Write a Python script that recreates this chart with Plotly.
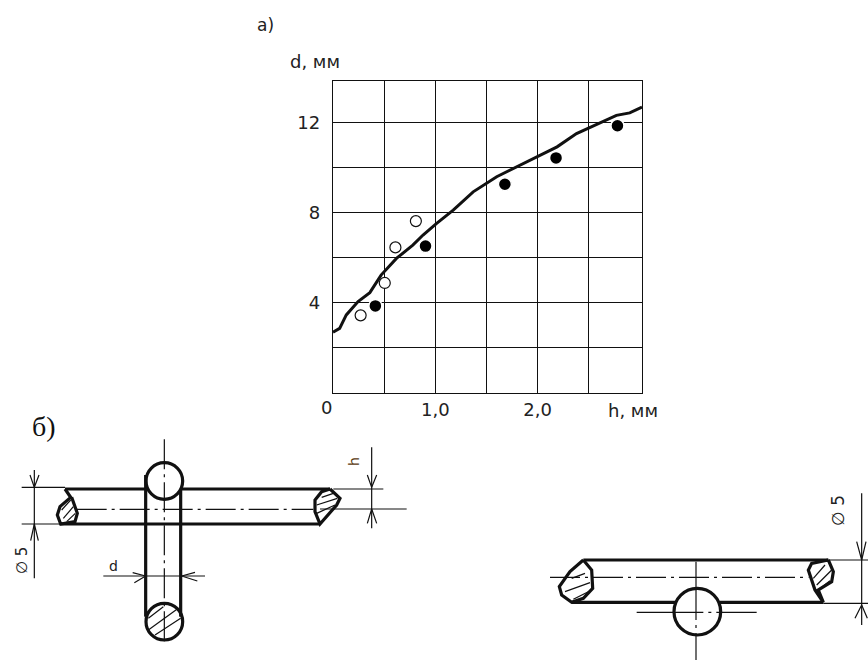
import plotly.graph_objects as go

# a) measured curve and points
curve_h = [0, 0.065, 0.13, 0.245, 0.36, 0.47, 0.62, 0.78, 0.88, 1.01, 1.175, 1.37, 1.6, 1.79, 1.99, 2.19, 2.38, 2.58, 2.77, 2.9, 3.02]
curve_d = [2.68, 2.85, 3.45, 4.04, 4.44, 5.22, 5.96, 6.55, 7.0, 7.51, 8.11, 8.92, 9.59, 10.03, 10.47, 10.92, 11.51, 11.92, 12.32, 12.43, 12.69]
filled_h = [0.414, 0.904, 1.68, 2.18, 2.78]
filled_d = [3.85, 6.51, 9.26, 10.43, 11.86]
open_h = [0.27, 0.506, 0.61, 0.81]
open_d = [3.43, 4.87, 6.45, 7.62]
x_ticks = [0, 0.5, 1, 1.5, 2, 2.5]
x_labels = ["", "", "1,0", "", "2,0", ""]
y_ticks = [0, 2, 4, 6, 8, 10, 12]
y_labels = ["", "", "4", "", "8", "", "12"]

# б) left sketch, read from the 3x crop at (0,410)
L_thick = [
    [(195, 237), (437, 237)], [(545, 237), (990, 237)], [(180, 342), (960, 342)],
    [(437, 195), (437, 620)], [(542, 240), (542, 620)],
    [(195, 237), (212, 262), (180, 290), (172, 315), (182, 342), (225, 335), (232, 310), (215, 262)],
    [(990, 237), (1020, 265), (1010, 285), (960, 342), (945, 305), (945, 270), (965, 245), (990, 237)],
]
L_thin = [
    [(65, 232), (195, 232)], [(65, 342), (180, 342)], [(1000, 237), (1150, 237)], [(960, 297), (1220, 297)],
    [(103, 180), (103, 505)], [(1115, 112), (1115, 355)], [(310, 498), (615, 498)],
    [(90, 195), (103, 232), (117, 195)], [(92, 392), (103, 342), (115, 392)],
    [(1102, 195), (1115, 232), (1130, 195)], [(1102, 340), (1115, 297), (1130, 340)],
    [(398, 488), (437, 498), (403, 518)], [(585, 487), (545, 498), (592, 513)],
    [(190, 325), (220, 290)], [(200, 335), (226, 310)], [(185, 300), (212, 270)],
    [(950, 285), (1012, 265)], [(950, 310), (1005, 285)], [(965, 262), (1000, 250)],
    [(445, 625), (490, 590)], [(445, 660), (535, 595)], [(465, 675), (542, 625)],
]
L_center = [[(230, 298), (940, 298)], [(493, 88), (493, 700)]]
L_circles = [(493, 213, 55), (493, 635, 55)]

# б) right sketch, read from the 3x crop at (530,490)
R_thick = [
    [(160, 210), (895, 210)], [(125, 337), (435, 337)], [(570, 337), (880, 337)],
    [(160, 210), (185, 240), (188, 295), (160, 325), (125, 337), (95, 315), (88, 290), (120, 245), (160, 210)],
    [(895, 210), (910, 245), (905, 275), (865, 300), (880, 337), (855, 300), (835, 240), (845, 220), (895, 210)],
]
R_thin = [
    [(895, 210), (1015, 210)], [(880, 340), (1015, 340)], [(995, 10), (995, 405)],
    [(980, 155), (995, 210), (1008, 155)], [(975, 385), (995, 345), (1012, 385)],
    [(498, 215), (498, 300)], [(498, 430), (498, 510)], [(320, 367), (430, 367)], [(575, 367), (680, 367)],
    [(105, 305), (180, 278)], [(125, 265), (165, 250)], [(130, 328), (175, 305)],
    [(850, 265), (885, 225)], [(860, 285), (905, 240)], [(865, 300), (900, 272)],
]
R_center = [[(60, 262), (835, 262)], [(498, 300), (498, 430)], [(430, 367), (575, 367)]]
R_circles = [(502, 365, 70)]


def left_px(pt):
    return pt[0] / 3, 410 + pt[1] / 3


def right_px(pt):
    return 530 + pt[0] / 3, 490 + pt[1] / 3


def flatten(paths, conv):
    xs, ys = [], []
    for path in paths:
        for pt in path:
            x, y = conv(pt)
            xs.append(x)
            ys.append(y)
        xs.append(None)
        ys.append(None)
    return xs, ys


def sketch_line(paths, conv, width, dash="solid"):
    xs, ys = flatten(paths, conv)
    return go.Scatter(x=xs, y=ys, xaxis="x2", yaxis="y2", mode="lines", hoverinfo="skip",
                      line=dict(color="#111111", width=width, dash=dash))


fig = go.Figure()

fig.add_trace(go.Scatter(x=curve_h, y=curve_d, mode="lines", cliponaxis=False,
                         line=dict(color="#111111", width=3)))
fig.add_trace(go.Scatter(x=filled_h, y=filled_d, mode="markers", cliponaxis=False,
                         marker=dict(symbol="circle", size=13, color="#000000", line=dict(color="white", width=1.5))))
fig.add_trace(go.Scatter(x=open_h, y=open_d, mode="markers", cliponaxis=False,
                         marker=dict(symbol="circle", size=11, color="white", line=dict(color="#111111", width=1.2))))

for paths, conv in [(L_center, left_px), (R_center, right_px)]:
    fig.add_trace(sketch_line(paths, conv, 1.2, "30px,5px,3px,5px"))
fig.add_trace(sketch_line(L_thin, left_px, 1.2))
fig.add_trace(sketch_line(R_thin, right_px, 1.2))
fig.add_trace(sketch_line(L_thick, left_px, 3.2))
fig.add_trace(sketch_line(R_thick, right_px, 3.2))

for circles, conv in [(L_circles, left_px), (R_circles, right_px)]:
    for cx, cy, r in circles:
        x0, y0 = conv((cx - r, cy - r))
        x1, y1 = conv((cx + r, cy + r))
        fig.add_shape(type="circle", xref="x2", yref="y2", x0=x0, y0=y0, x1=x1, y1=y1,
                      line=dict(color="#111111", width=3.2))

label_font = dict(family="DejaVu Sans", size=18, color="#222222")
unit_font = dict(family="DejaVu Sans", size=18, color="#222222")
small_font = dict(family="DejaVu Sans", size=14, color="#222222")
notes = [
    ("а)", 265, 25, dict(unit_font, size=17), 0),
    ("d, мм", 315, 61, unit_font, 0),
    ("0", 326, 407, label_font, 0),
    ("h, мм", 633, 410, unit_font, 0),
    ("d", 113, 566, small_font, 0),
    ("h", 354, 462, dict(small_font, color="#5a3a10"), -90),
    ("∅ 5", 22, 561, dict(small_font, size=15), -90),
    ("∅ 5", 838, 511, dict(small_font, size=17), -90),
    ("б)", 44, 426, dict(family="Liberation Serif", size=28, color="#111111"), 0),
]
for text, x, y, font, angle in notes:
    fig.add_annotation(text=text, x=x, y=y, xref="x2", yref="y2", showarrow=False, font=font, textangle=angle)

fig.update_layout(
    width=868,
    height=660,
    margin=dict(l=0, r=0, t=0, b=0),
    paper_bgcolor="white",
    plot_bgcolor="rgba(0,0,0,0)",
    showlegend=False,
    xaxis=dict(domain=[333 / 868, 642 / 868], range=[0, 3.02], tickvals=x_ticks, ticktext=x_labels,
               showgrid=True, gridcolor="#111111", gridwidth=1.4, zeroline=False, showline=True,
               linecolor="#111111", linewidth=1.4, mirror=True, ticks="outside", ticklen=1,
               tickcolor="rgba(0,0,0,0)", tickfont=label_font, anchor="y"),
    yaxis=dict(domain=[1 - 392.5 / 660, 1 - 80.5 / 660], range=[0, 13.87], tickvals=y_ticks, ticktext=y_labels,
               showgrid=True, gridcolor="#111111", gridwidth=1.4, zeroline=False, showline=True,
               linecolor="#111111", linewidth=1.4, mirror=True, ticks="outside", ticklen=8,
               tickcolor="rgba(0,0,0,0)", tickfont=label_font, anchor="x"),
    xaxis2=dict(domain=[0, 1], range=[0, 868], visible=False, anchor="y2"),
    yaxis2=dict(domain=[0, 1], range=[660, 0], visible=False, anchor="x2"),
)

fig.write_html("out.html", config=dict(displayModeBar=False), post_script="document.body.style.margin='0';")
